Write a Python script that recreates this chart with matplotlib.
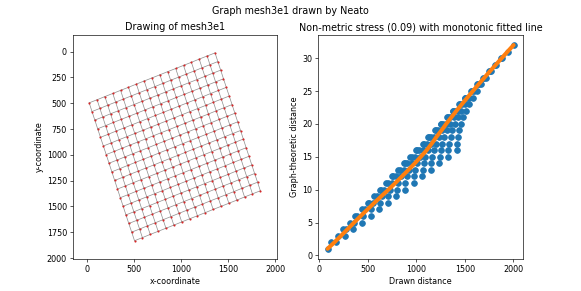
import matplotlib
matplotlib.use("Agg")
import matplotlib.pyplot as plt

# ---------------- data ----------------
# Mesh 17x17 grid (mesh3e1) node layout
top_row_x = [21, 105, 188, 272, 355, 439, 523, 606, 690, 773, 857, 941, 1024, 1108, 1191, 1275, 1359]
top_row_y = [497, 467, 436, 406, 376, 346, 315, 285, 255, 225, 194, 164, 134, 104, 73, 43, 13]
row_shift_x = [0, 30, 60, 90, 120, 151, 181, 211, 241, 271, 301, 331, 361, 391, 421, 452, 482]
row_shift_y = [0, 84, 167, 251, 334, 418, 501, 585, 668, 752, 835, 919, 1002, 1086, 1169, 1253, 1336]

# Shepard diagram: drawn distances observed at each graph-theoretic distance
graph_dist = list(range(1, 33))
drawn_by_row = [
    [88],
    [125, 177],
    [198, 266],
    [250, 280, 354],
    [319, 365, 443],
    [375, 396, 451, 531],
    [443, 477, 538, 620],
    [501, 516, 560, 626, 708],
    [567, 594, 644, 713, 797],
    [626, 638, 674, 730, 801, 885],
    [691, 713, 756, 816, 889, 974],
    [751, 761, 792, 840, 903, 977, 1062],
    [816, 835, 872, 924, 989, 1066, 1151],
    [876, 885, 911, 953, 1009, 1077, 1154, 1239],
    [941, 957, 989, 1036, 1095, 1164, 1242, 1328],
    [1001, 1009, 1032, 1069, 1119, 1181, 1252, 1330, 1416],
    [1066, 1080, 1109, 1151, 1204, 1267, 1339, 1419],
    [1126, 1133, 1154, 1187, 1233, 1289, 1354, 1427],
    [1191, 1204, 1229, 1267, 1316, 1374, 1441],
    [1252, 1258, 1276, 1307, 1348, 1399, 1460],
    [1316, 1328, 1351, 1385, 1430, 1484],
    [1377, 1382, 1399, 1427, 1465, 1512],
    [1441, 1452, 1473, 1505, 1546],
    [1502, 1507, 1523, 1548, 1583],
    [1566, 1576, 1595, 1625],
    [1627, 1632, 1646, 1670],
    [1691, 1700, 1718],
    [1752, 1757, 1770],
    [1816, 1825],
    [1877, 1882],
    [1941],
    [2003],
]
# Monotonic fitted line (drawn distance at each graph distance)
fit_x = [88, 160, 228, 295, 362, 430, 500, 570, 642, 715, 785, 853, 920, 986, 1048, 1108,
         1160, 1208, 1260, 1309, 1362, 1415, 1471, 1527, 1584, 1641, 1700, 1759, 1820, 1880, 1941, 2003]
fit_y = graph_dist

# ---------------- figure ----------------
fig, (ax1, ax2) = plt.subplots(1, 2, figsize=(10, 5.01), dpi=58.1)
fig.suptitle("Graph mesh3e1 drawn by Neato")

n = len(top_row_x)
px = [[top_row_x[j] + row_shift_x[i] for j in range(n)] for i in range(n)]
py = [[top_row_y[j] + row_shift_y[i] for j in range(n)] for i in range(n)]

edge_kw = dict(color="#909090", lw=0.9, zorder=1)
for i in range(n):
    for j in range(n):
        if j + 1 < n:
            ax1.plot([px[i][j], px[i][j + 1]], [py[i][j], py[i][j + 1]], **edge_kw)
        if i + 1 < n:
            ax1.plot([px[i][j], px[i + 1][j]], [py[i][j], py[i + 1][j]], **edge_kw)
allx = [v for r in px for v in r]
ally = [v for r in py for v in r]
ax1.scatter(allx, ally, s=7, color="#d62728", zorder=2, linewidths=0)
ax1.set_xlim(-155, 2021)
ax1.set_ylim(2010, -162)
ax1.set_xticks([0, 500, 1000, 1500, 2000])
ax1.set_yticks([0, 250, 500, 750, 1000, 1250, 1500, 1750, 2000])
ax1.set_title("Drawing of mesh3e1")
ax1.set_xlabel("x-coordinate")
ax1.set_ylabel("y-coordinate")

sx, sy = [], []
for d, row in zip(graph_dist, drawn_by_row):
    for v in row:
        sx.append(v)
        sy.append(d)
ax2.scatter(sx, sy, s=50, color="C0")
ax2.plot(fit_x, fit_y, color="C1", lw=5, solid_capstyle="round")
ax2.set_title("Non-metric stress (0.09) with monotonic fitted line")
ax2.set_xlabel("Drawn distance")
ax2.set_ylabel("Graph-theoretic distance")

fig.savefig("out.png", dpi=58.1)
